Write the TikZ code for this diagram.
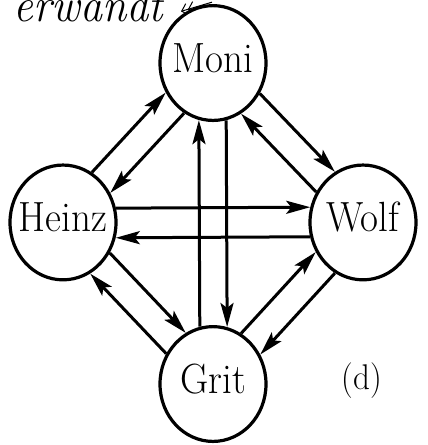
\documentclass[tikz,border=0pt]{standalone}
\usetikzlibrary{arrows.meta}
\newcommand\nodetext[1]{\makebox[0pt]{\smash{\raisebox{-4.3pt}{#1}}}}
\begin{document}
\begin{tikzpicture}[x=0.5pt,y=-0.5pt,yscale=1.083,
  every node/.append style={transform shape},
  person/.style={circle,draw,line width=1.6pt,minimum size=53pt,inner sep=0pt,
    font=\fontsize{19.5}{23}\selectfont},
  link/.style={line width=1.5pt,-{Stealth[length=12pt,width=6.5pt,inset=2.5pt]}}]
\useasboundingbox (0,0) rectangle (428,410.9);
\clip (0,0) rectangle (428,410.9);

\node[font=\fontsize{22}{26}\selectfont\itshape,anchor=base east,inner sep=0pt] (verw) at (163,19.8) {erwandt};
\coordinate (tipA) at (212,2);
\coordinate (tipB) at (181,10.5);
\draw[line width=0.5pt,-{Straight Barb[length=3pt,width=6pt] Straight Barb[length=3pt,width=6pt]}] (tipA) -- (tipB);

\node[person,fill=white] (moni)  at (213,58.2)  {\nodetext{Moni}};
\node[person] (heinz) at (63,205.4)  {\nodetext{Heinz}};
\node[person] (wolf)  at (363,205.4) {\nodetext{Wolf}};
\node[person] (grit)  at (213,354.6) {\nodetext{Grit}};

\draw[link] (heinz.58.8) -- (moni.210.1);
\draw[link] (moni.238.8) -- (heinz.30.1);
\draw[link] (moni.329.9) -- (wolf.121.2);
\draw[link] (wolf.149.9) -- (moni.301.2);
\draw[link] (heinz.14.3) -- (wolf.165.7);
\draw[link] (wolf.194.3) -- (heinz.345.7);
\draw[link] (grit.104.3) -- (moni.255.7);
\draw[link] (moni.284.3) -- (grit.75.7);
\draw[link] (grit.149.5) -- (heinz.300.8);
\draw[link] (heinz.329.5) -- (grit.120.8);
\draw[link] (grit.59.2) -- (wolf.210.5);
\draw[link] (wolf.239.2) -- (grit.30.5);

\node[font=\fontsize{16.5}{20}\selectfont] (label) at (362,351.8) {(d)};
\end{tikzpicture}
\end{document}
